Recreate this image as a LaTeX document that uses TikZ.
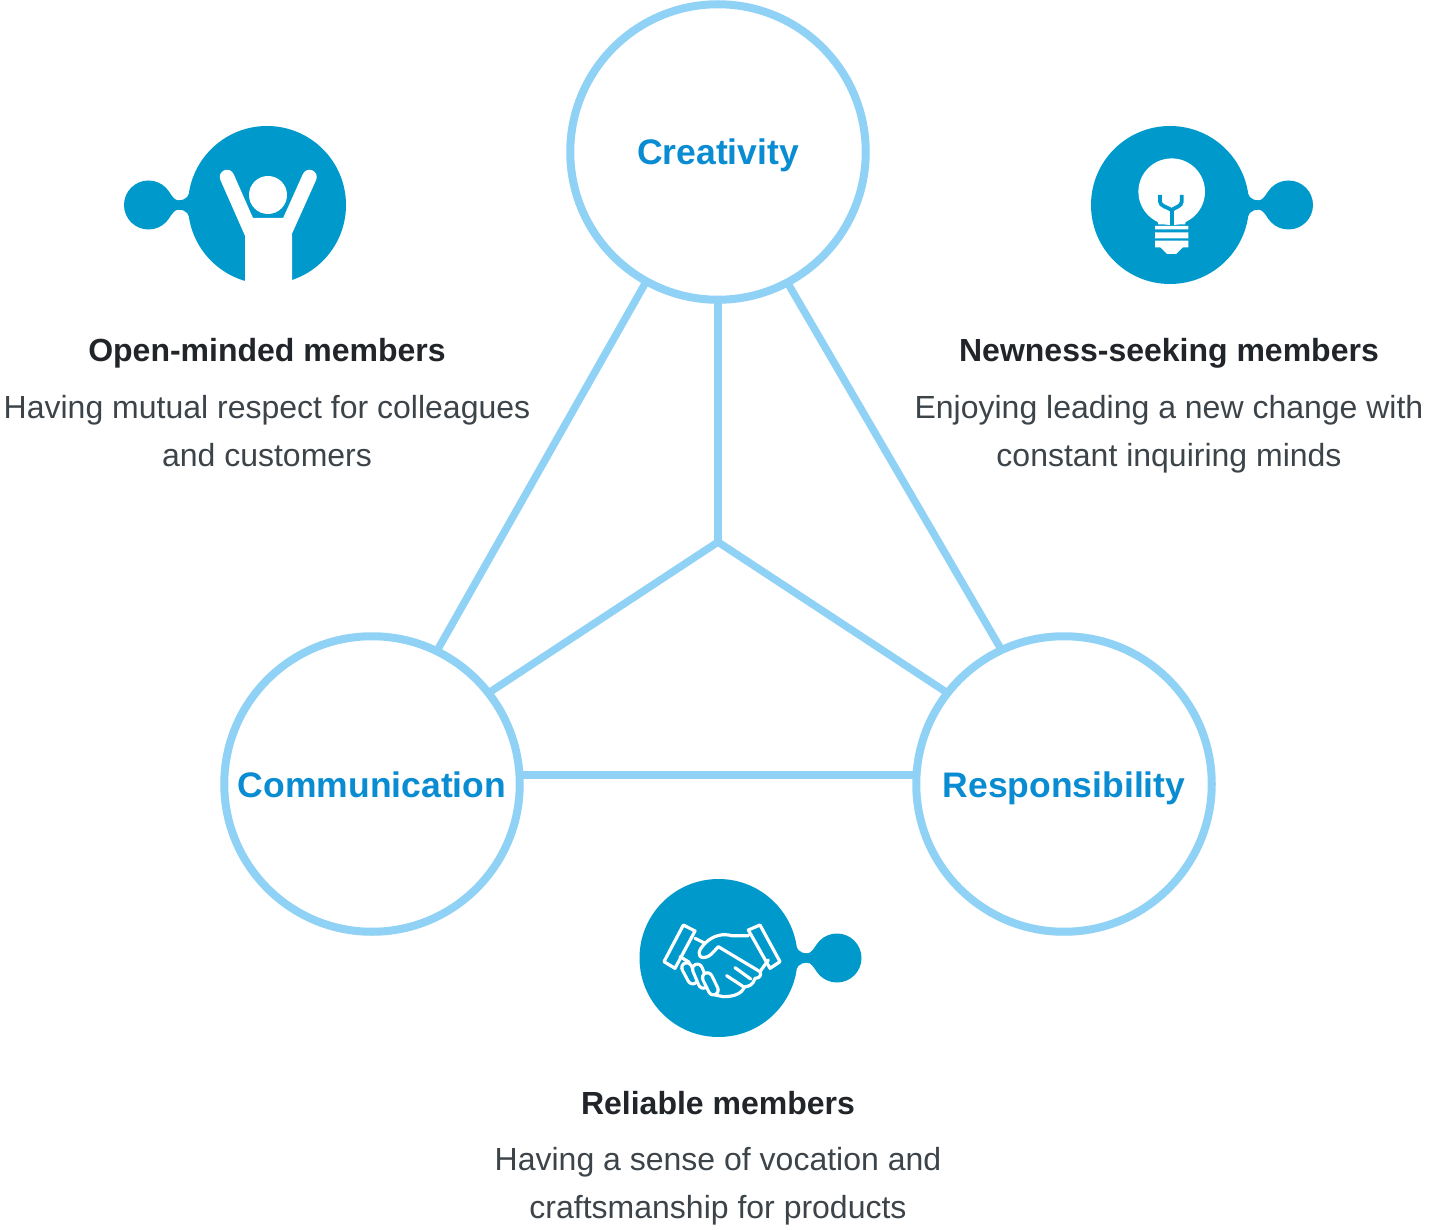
\documentclass[tikz,border=0pt]{standalone}
\usepackage{fontspec}
\setmainfont{Liberation Sans}
\usepackage{tikz}
\usetikzlibrary{shadows}
\definecolor{iconblue}{HTML}{0099CC}
\definecolor{ringblue}{HTML}{90D2F5}
\definecolor{valueblue}{HTML}{0A8CD2}
\definecolor{headdark}{HTML}{212529}
\definecolor{bodydark}{HTML}{3D4449}
\tikzset{
  valuering/.style={circle,fill=white,draw=ringblue,line width=8pt,minimum size=295.5pt,inner sep=0pt,outer sep=0pt,text=valueblue,text height=30pt,text depth=4pt,font=\fontsize{35.5}{40}\selectfont\bfseries,drop shadow={shadow xshift=0pt,shadow yshift=-4pt,opacity=0.06,fill=black}},
  link/.style={draw=ringblue,line width=7.5pt},
  membertitle/.style={anchor=base,inner sep=0pt,text=headdark,font=\fontsize{32}{36}\selectfont\bfseries},
  memberdesc/.style={anchor=center,inner sep=0pt,align=center,text=bodydark,font=\fontsize{32}{48}\selectfont},
  fingerline/.style={white,line width=3.2pt,double=iconblue,double distance=6.5pt,line cap=round},
  handline/.style={white,line width=3.2pt,line join=round,line cap=round}
}
\newcommand{\blobicon}[3]{
  \begin{scope}[shift={(#1,#2)},xscale=#3]
    \fill[iconblue] (0,0) circle[radius=79pt] (-118.5,0) circle[radius=24.5pt];
    \fill[iconblue] (-98,-13) .. controls (-94,-8) and (-92.5,-4.7) .. (-88.5,-4.7) .. controls (-81,-4.7) and (-77,-9) .. (-76.5,-18) -- (-70,-18) -- (-70,18) -- (-76.5,18) .. controls (-77,9) and (-81,4.7) .. (-88.5,4.7) .. controls (-92.5,4.7) and (-94,8) .. (-98,13) -- (-105,0) -- cycle;
  \end{scope}
}
\begin{document}
\begin{tikzpicture}[x=1pt,y=-1pt]
\useasboundingbox (0,0) rectangle (1436,1230);
\node[valuering] (creativity) at (718,152) {Creativity};
\node[valuering] (communication) at (372,784) {Communication};
\node[valuering] (responsibility) at (1064,784) {Responsibility};
\coordinate (hub) at (718,542);
\draw[link] (creativity.241.5) -- (communication.64.5);
\draw[link] (creativity.298.5) -- (responsibility.115.5);
\draw[link] (creativity.south) -- (hub);
\draw[link,line join=miter] (communication.38) -- (hub) -- (responsibility.142);
\draw[link] ([yshift=9pt]communication.east) -- ([yshift=9pt]responsibility.west);
\blobicon{267}{205}{1}
\begin{scope}[shift={(267,205)}]
  \fill[white] (1,-10) circle[radius=19pt];
  \draw[white,line width=14.5pt,line cap=round] (-40,-28) -- (-14,31);
  \draw[white,line width=14.5pt,line cap=round] (42.5,-28) -- (16,31);
  \fill[white] (-22,80) -- (-22,30) -- (-14,13) -- (16,13) -- (25,30) -- (25,80) -- cycle;
\end{scope}
\blobicon{1170}{205}{-1}
\begin{scope}[shift={(1170,205)}]
  \fill[white] (1.7,-13.3) circle[radius=33.3pt];
  \fill[white] (-23,8) -- (-13,13.3) -- (-11.7,19.5) -- (15,19.5) -- (16.7,13.3) -- (26.7,8) -- cycle;
  \fill[white] (-15,21) rectangle (18.3,24.5) (-15,27.3) rectangle (18.3,33.3) (-15,35.7) rectangle (18.3,42.3);
  \fill[white] (-10,42) -- (13,42) -- (6,49) -- (-3,49) -- cycle;
  \draw[iconblue,line width=3.8pt] (-10,-10) -- (-10,-3.3) .. controls (-10,1) and (-3,2) .. (1.7,5) .. controls (6,2) and (11.7,1) .. (11.7,-3.3) -- (11.7,-10);
  \draw[iconblue,line width=3.8pt] (1.7,5) -- (1.7,20);
\end{scope}
\blobicon{718.5}{958}{-1}
\begin{scope}[shift={(660,915)},x=0.3333pt,y=-0.3333pt]
  \draw[handline] (70,30) -- (105,48) -- (45,160) -- (12,140) -- cycle;
  \draw[handline] (265,45) -- (300,30) -- (360,140) -- (330,160) -- cycle;
  \draw[handline] (60,125) -- (88,142);
  \draw[fingerline] (80,158) -- (98,192);
  \draw[fingerline] (112,162) -- (130,205);
  \draw[fingerline] (142,188) -- (160,225);
  \draw[handline] (105,70) -- (135,85) .. controls (160,60) and (190,55) .. (215,62) -- (265,62);
  \draw[handline] (135,85) .. controls (115,105) and (110,125) .. (130,128) .. controls (150,128) and (160,110) .. (175,95) -- (300,170) .. controls (305,180) and (300,190) .. (285,190) .. controls (280,210) and (265,215) .. (255,215) .. controls (245,235) and (225,245) .. (190,245) -- (165,240);
  \draw[handline] (325,135) -- (300,170);
  \draw[handline] (225,158) -- (272,192);
  \draw[handline] (200,182) -- (250,215);
\end{scope}
\node[membertitle] (openTitle) at (267,362) {Open-minded members};
\node[memberdesc] (openDesc) at (267,432.5) {\strut Having mutual respect for colleagues\\\strut and customers};
\node[membertitle] (newTitle) at (1169,362) {Newness-seeking members};
\node[memberdesc] (newDesc) at (1169,432.5) {\strut Enjoying leading a new change with\\\strut constant inquiring minds};
\node[membertitle] (reliableTitle) at (718,1114) {Reliable members};
\node[memberdesc] (reliableDesc) at (718,1184.5) {\strut Having a sense of vocation and\\\strut craftsmanship for products};
\end{tikzpicture}
\end{document}
